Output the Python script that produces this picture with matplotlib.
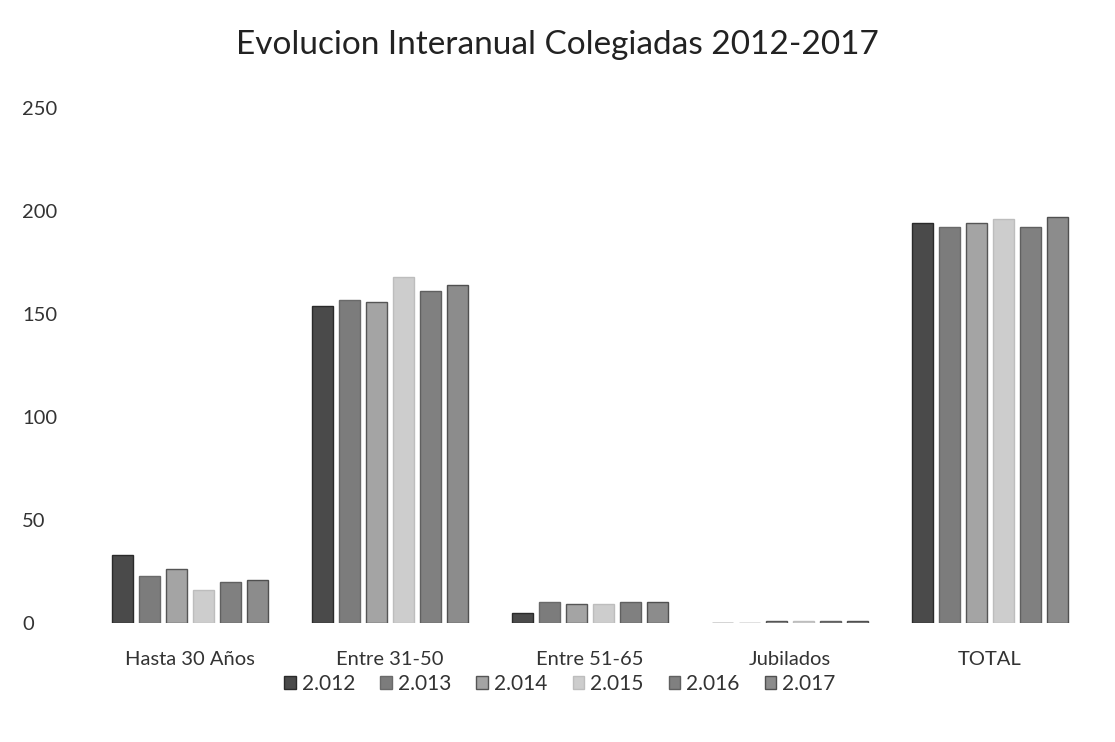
import matplotlib
matplotlib.use("Agg")
import matplotlib.pyplot as plt
import numpy as np

categories = ["Hasta 30 Años", "Entre 31-50", "Entre 51-65", "Jubilados", "TOTAL"]
series_names = ["2.012", "2.013", "2.014", "2.015", "2.016", "2.017"]
values = {
    "2.012": [33, 154, 5, 0, 194],
    "2.013": [23, 157, 10, 0, 192],
    "2.014": [26, 156, 9, 1, 194],
    "2.015": [16, 168, 9, 1, 196],
    "2.016": [20, 161, 10, 1, 192],
    "2.017": [21, 164, 10, 1, 197],
}
colors = ["#4a4a4a", "#7c7c7c", "#a4a4a4", "#cdcdcd", "#808080", "#8c8c8c"]
edges = ["#2a2a2a", "#6a6a6a", "#555555", "#bdbdbd", "#606060", "#505050"]

plt.rcParams["font.family"] = ["Lato", "DejaVu Sans"]
fig = plt.figure(figsize=(11.15, 7.42), dpi=100)
ax = fig.add_axes([90/1115, 1-623/742, 1000/1115, (623-108)/742])

x = np.arange(len(categories))
w = 0.105
pitch = 0.135
for i, name in enumerate(series_names):
    off = (i - 2.5) * pitch
    ax.bar(x + off, values[name], width=w, color=colors[i], edgecolor=edges[i],
           linewidth=1.0, label=name)

ax.set_xlim(-0.5, 4.5)
ax.set_ylim(0, 250)
ax.set_yticks([0, 50, 100, 150, 200, 250])
ax.set_xticks(x)
ax.set_xticklabels(categories)
for s in ax.spines.values():
    s.set_visible(False)
ax.tick_params(axis="both", length=0, labelsize=14.5, colors="#333333")
ax.tick_params(axis="y", pad=49)
for lab in ax.get_yticklabels():
    lab.set_horizontalalignment("left")
ax.tick_params(axis="x", pad=20)

fig.text(0.5, 1-45/742, "Evolucion Interanual Colegiadas 2012-2017", ha="center",
         va="center", fontsize=24, color="#222222")

leg = fig.legend(loc="center", bbox_to_anchor=(560/1115, 1-684/742), ncol=6,
                 frameon=False, fontsize=15, handlelength=0.55, handleheight=0.55,
                 handletextpad=0.3, columnspacing=1.2)
for t in leg.get_texts():
    t.set_color("#333333")

fig.savefig("out.png", dpi=100, facecolor="white")
